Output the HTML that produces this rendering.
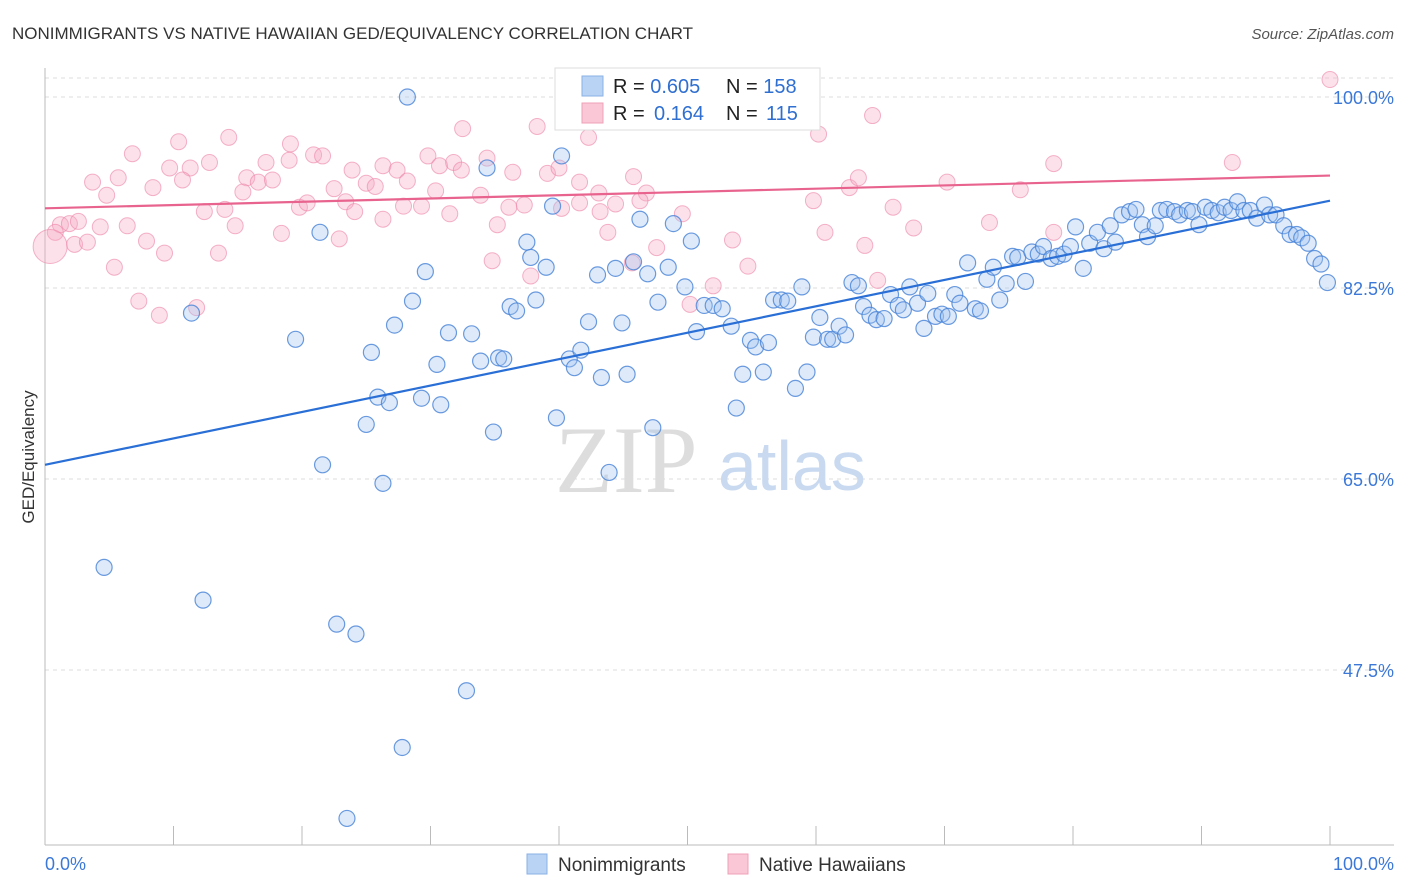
<!DOCTYPE html>
<html><head><meta charset="utf-8">
<style>
body{margin:0;background:#fff;font-family:"Liberation Sans",sans-serif;}
#c{position:relative;width:1406px;height:892px;overflow:hidden;}
</style></head>
<body>
<div id="c">
<svg id="svg" width="1406" height="892" xmlns="http://www.w3.org/2000/svg">
<text x="12" y="39" font-size="17" fill="#333">NONIMMIGRANTS VS NATIVE HAWAIIAN GED/EQUIVALENCY CORRELATION CHART</text>
<text x="1394" y="39" font-size="15" fill="#555" text-anchor="end" font-style="italic">Source: ZipAtlas.com</text>
<text x="34" y="457" font-size="17" fill="#333" text-anchor="middle" transform="rotate(-90 34 457)">GED/Equivalency</text>
<g id="grid"></g>
<text x="555" y="492" font-size="95" fill="#ddd" font-family="Liberation Serif,serif">ZIP</text>
<text x="718" y="490" font-size="70" fill="#c9daf0">atlas</text>
<g id="pink"></g><g id="blue"></g><g id="lines"></g>
<g>
<rect x="555" y="68" width="265" height="62" fill="#fff" stroke="#ddd"/>
<rect x="582" y="76" width="21" height="20" fill="#b9d3f5" stroke="#8ab2e6"/>
<rect x="582" y="103" width="21" height="20" fill="#f9c7d6" stroke="#f0a0b8"/>
<text x="613" y="93" font-size="20" fill="#222">R = <tspan fill="#2f6fd0">0.605</tspan><tspan x="726">N = </tspan><tspan fill="#2f6fd0">158</tspan></text>
<text x="613" y="120" font-size="20" fill="#222">R = <tspan x="654" fill="#2f6fd0">0.164</tspan><tspan x="726">N = </tspan><tspan x="766" fill="#2f6fd0">115</tspan></text>
</g>
<g>
<rect x="527" y="854" width="20" height="20" fill="#b9d3f5" stroke="#8ab2e6"/>
<text x="558" y="871" font-size="19" fill="#333">Nonimmigrants</text>
<rect x="728" y="854" width="20" height="20" fill="#f9c7d6" stroke="#f0a0b8"/>
<text x="759" y="871" font-size="19" fill="#333">Native Hawaiians</text>
</g>
<text x="45" y="870" font-size="18" fill="#3b78d8">0.0%</text>
<text x="1394" y="870" font-size="18" fill="#3b78d8" text-anchor="end">100.0%</text>
</svg>
</div>
<script>
const yTicks=[100,82.5,65,47.5];
const yTickLabels=["100.0%","82.5%","65.0%","47.5%"];
const xTicks=[0,10,20,30,40,50,60,70,80,90,100];
const blueX=[28.2,40.2,34.4,21.4,11.4,19.5,29.6,28.6,27.2,25.4,25.9,26.8,29.3,30.8,25.0,30.5,31.4,33.2,33.9,35.3,35.7,34.9,36.2,36.7,38.2,37.5,37.8,39.0,39.5,39.8,40.8,41.2,41.7,42.3,43.0,43.3,43.9,44.4,44.9,45.3,45.8,46.3,46.9,47.3,47.7,48.5,48.9,49.8,50.3,50.7,51.3,52.0,52.7,53.4,53.8,54.3,54.9,55.3,55.9,56.3,56.7,57.3,57.8,58.4,58.9,59.3,59.8,60.3,60.9,61.3,61.8,62.3,62.8,63.3,63.7,64.2,64.7,65.3,65.8,66.4,66.8,67.3,67.9,68.4,68.7,69.3,69.8,70.3,70.8,71.2,71.8,72.4,72.8,73.3,73.8,74.3,74.8,75.3,75.7,76.3,76.8,77.3,77.7,78.3,78.8,79.3,79.8,80.2,80.8,81.3,81.9,82.4,82.9,83.3,83.8,84.4,84.9,85.4,85.8,86.4,86.8,87.3,87.9,88.3,88.9,89.3,89.8,90.3,90.8,91.3,91.8,92.3,92.8,93.3,93.8,94.3,94.9,95.3,95.8,96.4,96.9,97.4,97.8,98.3,98.8,99.3,99.8,4.6,12.3,21.6,26.3,22.7,24.2,32.8,27.8,23.5];
const blueY=[100.0,94.6,93.5,87.6,80.2,77.8,84.0,81.3,79.1,76.6,72.5,72.0,72.4,71.8,70.0,75.5,78.4,78.3,75.8,76.1,76.0,69.3,80.8,80.4,81.4,86.7,85.3,84.4,90.0,70.6,76.0,75.2,76.8,79.4,83.7,74.3,65.6,84.3,79.3,74.6,84.9,88.8,83.8,69.7,81.2,84.4,88.4,82.6,86.8,78.5,80.9,80.9,80.6,79.0,71.5,74.6,77.7,77.1,74.8,77.5,81.4,81.4,81.3,73.3,82.6,74.8,78.0,79.8,77.8,77.8,79.0,78.2,83.0,82.7,80.8,80.0,79.6,79.7,81.9,80.9,80.5,82.6,81.1,78.8,82.0,79.9,80.1,79.9,81.9,81.1,84.8,80.6,80.4,83.3,84.4,81.4,82.9,85.4,85.3,83.1,85.8,85.6,86.3,85.2,85.4,85.6,86.3,88.1,84.3,86.6,87.6,86.1,88.2,86.7,89.2,89.5,89.7,88.3,87.2,88.2,89.6,89.7,89.5,89.2,89.6,89.5,88.3,89.9,89.6,89.4,89.9,89.6,90.4,89.6,89.6,88.9,90.1,89.2,89.2,88.2,87.4,87.4,87.1,86.6,85.2,84.7,83.0,56.9,53.9,66.3,64.6,51.7,50.8,45.6,40.4,33.9];
const pinkX=[59.4,100,64.4,60.2,42.3,14.3,10.4,38.3,32.5,19.1,6.8,12.8,9.7,11.3,17.2,19.0,20.9,21.6,23.9,26.3,27.4,29.8,30.7,31.8,32.4,34.4,36.4,39.1,40.0,41.6,45.8,78.5,92.4,3.7,5.7,8.4,10.7,15.7,16.6,17.7,15.4,22.5,25.0,25.7,28.2,30.4,33.9,43.1,46.8,62.6,63.3,70.2,75.9,4.8,12.4,14.0,19.8,20.4,23.4,24.1,27.9,29.3,31.5,36.1,37.3,40.2,41.6,43.2,44.4,46.3,49.6,59.8,66.0,1.2,1.9,2.6,6.4,14.8,26.3,35.2,67.6,73.5,78.5,0.8,4.3,18.4,22.9,43.8,60.7,2.3,3.3,7.9,9.3,13.5,47.6,53.5,63.8,34.8,45.7,54.7,5.4,37.8,64.8,52.0,7.3,11.8,8.9,50.2,0.4];
const pinkY=[101.6,101.6,98.3,96.6,96.3,96.3,95.9,97.3,97.1,95.7,94.8,94.0,93.5,93.5,94.0,94.2,94.7,94.6,93.3,93.7,93.3,94.6,93.7,94.0,93.3,94.4,93.1,93.0,93.5,92.2,92.7,93.9,94.0,92.2,92.6,91.7,92.4,92.6,92.2,92.4,91.3,91.6,92.1,91.8,92.3,91.4,91.0,91.2,91.2,91.7,92.6,92.2,91.5,91.0,89.5,89.7,89.9,90.3,90.4,89.5,90.0,90.0,89.3,89.9,90.1,89.8,90.3,89.5,90.2,90.5,89.3,90.5,89.9,88.3,88.4,88.6,88.2,88.2,88.8,88.3,88.0,88.5,87.6,87.6,88.1,87.5,87.0,87.6,87.6,86.5,86.7,86.8,85.7,85.7,86.2,86.9,86.4,85.0,84.8,84.5,84.4,83.6,83.2,82.7,81.3,80.7,80.0,81.0,86.3];
const blueTrend=[66.3,90.5];
const pinkTrend=[89.8,92.8];

const NS="http://www.w3.org/2000/svg";
const xs=v=>45+v*12.85;
const ys=v=>97+(100-v)*10.914;
function mk(tag,attrs,parent){const e=document.createElementNS(NS,tag);for(const k in attrs)e.setAttribute(k,attrs[k]);parent.appendChild(e);return e;}
const grid=document.getElementById('grid');
yTicks.forEach((t,i)=>{
  const l=mk('line',{x1:45,x2:1394,y1:ys(t),y2:ys(t),stroke:'#ddd','stroke-dasharray':'4,4'},grid);
  
  
  const tx=mk('text',{x:1394,y:ys(t)+7,'font-size':18,fill:'#3b78d8','text-anchor':'end'},grid);
  tx.textContent=yTickLabels[i];
  
  
});
const topGrid=mk('line',{x1:45,x2:1394,y1:78,y2:78,stroke:'#ddd','stroke-dasharray':'4,4'},grid);


const ax=mk('line',{x1:45,x2:45,y1:68,y2:845,stroke:'#bbb'},grid);


const bx=mk('line',{x1:45,x2:1394,y1:845,y2:845,stroke:'#bbb'},grid);


xTicks.forEach(t=>{
  const l=mk('line',{x1:xs(t),x2:xs(t),y1:826,y2:845,stroke:'#bbb'},grid);
  
  
});
const pg=document.getElementById('pink');
pinkX.forEach((v,i)=>{
  const big=i===pinkX.length-1;
  const c=mk('circle',{cx:xs(v),cy:ys(pinkY[i]),r:big?17:8,fill:'rgba(246,170,195,0.35)',stroke:'rgba(236,130,165,0.6)','stroke-width':1},pg);
  
  
});
const bg=document.getElementById('blue');
blueX.forEach((v,i)=>{
  const c=mk('circle',{cx:xs(v),cy:ys(blueY[i]),r:8,fill:'rgba(160,195,240,0.35)',stroke:'rgba(70,130,215,0.8)','stroke-width':1.2},bg);
  
  
});
const lg=document.getElementById('lines');
const bl=mk('line',{x1:xs(0),y1:ys(blueTrend[0]),x2:xs(100),y2:ys(blueTrend[1]),stroke:'#2a6fd6','stroke-width':2.2},lg);


const pl=mk('line',{x1:xs(0),y1:ys(pinkTrend[0]),x2:xs(100),y2:ys(pinkTrend[1]),stroke:'#e8648f','stroke-width':2.2},lg);


</script>
</body></html>
